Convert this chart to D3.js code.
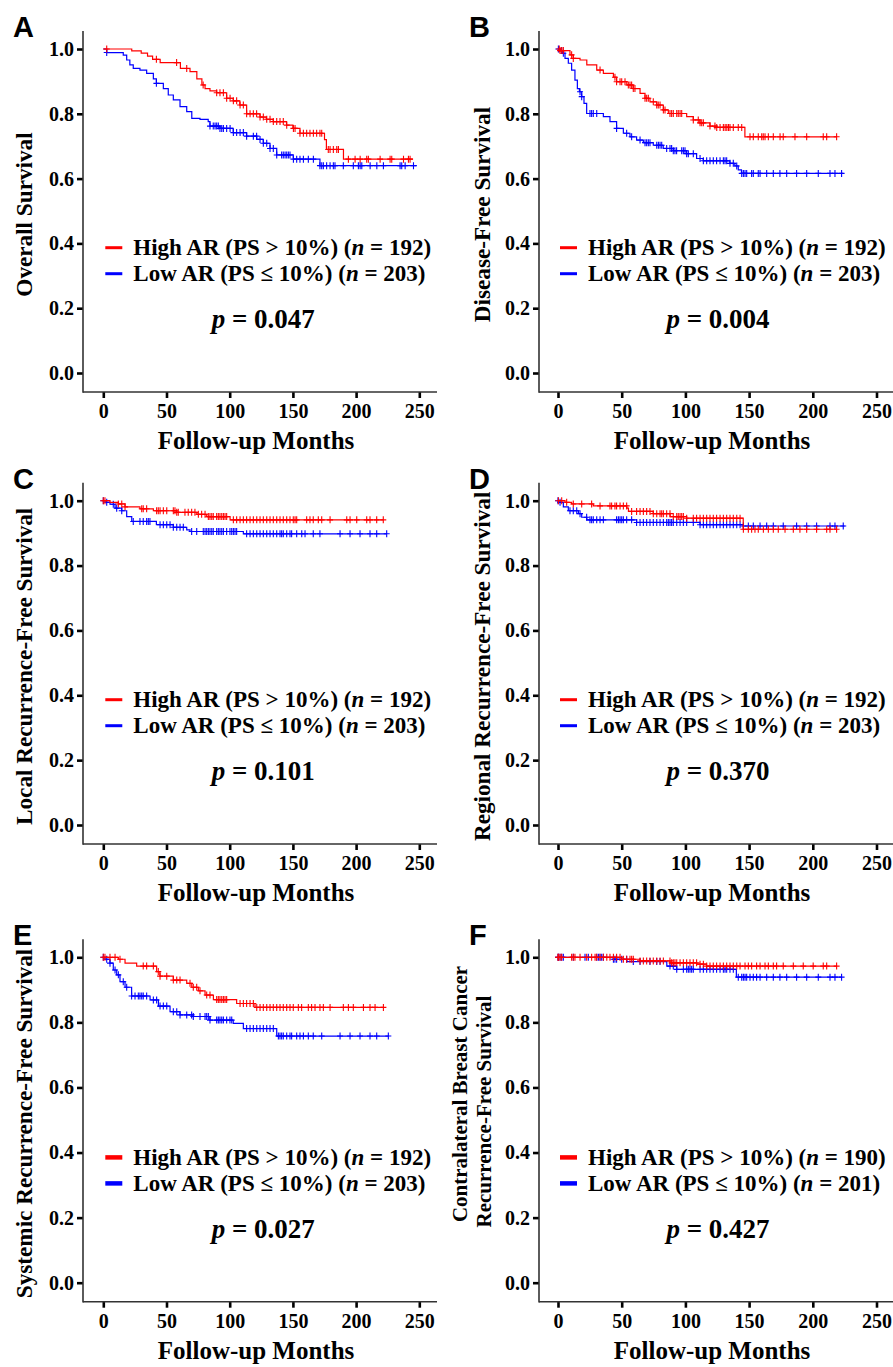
<!DOCTYPE html>
<html>
<head>
<meta charset="utf-8">
<script src="https://cdn.jsdelivr.net/npm/d3@7"></script>
<style>
body { margin: 0; background: #fff; }
svg text { font-family: "Liberation Serif", "Times New Roman", serif; font-weight: bold; fill: #000; }
</style>
</head>
<body>
<svg id="fig" width="893" height="1367"></svg>
<script>
// tick labels
const monthTicks = [0, 50, 100, 150, 200, 250];
const survTicks = [0, 0.2, 0.4, 0.6, 0.8, 1.0];

// panel text
const panelLetters = ["A", "B", "C", "D", "E", "F"];
const yTitles = [
    ["Overall Survival"],
    ["Disease-Free Survival"],
    ["Local Recurrence-Free Survival"],
    ["Regional Recurrence-Free Survival"],
    ["Systemic Recurrence-Free Survival"],
    ["Contralateral Breast Cancer", "Recurrence-Free Survival"]
];
const pValues = ["0.047", "0.004", "0.101", "0.370", "0.027", "0.427"];
const nHigh = [192, 192, 192, 192, 192, 190];
const nLow = [203, 203, 203, 203, 203, 201];

// Kaplan-Meier steps: [month, survival from that month on]
const highA = [[0,1],[22.5,0.994],[30,0.987],[35,0.978],[39,0.968],[45,0.958],[61,0.94],[68.6,0.93],[74,0.908],[78,0.889],[80.5,0.878],[84.4,0.871],[89.7,0.865],[97.6,0.848],[102.8,0.84],[108,0.827],[113.4,0.80],[124,0.79],[129,0.783],[134.5,0.776],[145,0.765],[150,0.755],[155.6,0.74],[175,0.72],[176.5,0.69],[190,0.66],[245,0.66]];
const lowA = [[0,1],[2.7,0.989],[15.8,0.981],[18.5,0.966],[21,0.951],[23.7,0.94],[29,0.935],[34.3,0.925],[39.6,0.908],[42,0.894],[47.5,0.878],[51.4,0.858],[55.4,0.843],[60.7,0.822],[66,0.807],[70,0.786],[76.5,0.783],[83,0.776],[84.4,0.762],[92.3,0.755],[102.8,0.742],[113.4,0.731],[121.4,0.721],[126.6,0.709],[131.9,0.693],[137.2,0.673],[150.3,0.66],[171.4,0.64],[248,0.64]];
const highB = [[0,1],[1.5,0.995],[9.4,0.982],[12,0.971],[17.3,0.966],[22.6,0.951],[30.4,0.935],[35.6,0.925],[43.5,0.913],[46,0.899],[54,0.889],[59,0.878],[64.4,0.863],[68.3,0.848],[72.2,0.837],[77.5,0.827],[82.7,0.812],[86.6,0.801],[101,0.791],[106.2,0.781],[111.4,0.772],[119.3,0.762],[124.5,0.758],[146.7,0.729],[218.7,0.729]];
const lowB = [[0,1],[1.6,0.995],[3.7,0.987],[5.5,0.971],[8.1,0.956],[10.7,0.935],[13.3,0.904],[15.2,0.878],[16.8,0.868],[18.6,0.853],[20.4,0.832],[22.5,0.801],[35.6,0.791],[40.8,0.776],[46,0.755],[51.3,0.74],[56.5,0.729],[61.7,0.719],[67,0.711],[74.8,0.703],[82.6,0.693],[90.5,0.686],[100.9,0.677],[108.8,0.662],[114,0.655],[134.9,0.647],[138.8,0.639],[141.5,0.627],[144,0.616],[223.9,0.616]];
const highC = [[0,1],[5.3,0.995],[11.9,0.99],[17.2,0.981],[29,0.975],[39.6,0.969],[58,0.964],[74,0.958],[81.8,0.951],[100.3,0.941],[221.6,0.941]];
const lowC = [[0,1],[2.2,0.995],[5.3,0.989],[9.3,0.977],[14.6,0.969],[18.5,0.951],[22.5,0.936],[42,0.926],[55.4,0.918],[66,0.91],[68.6,0.905],[110.8,0.898],[224.2,0.898]];
const highD = [[0,1],[5.5,0.995],[10.7,0.99],[27.7,0.984],[54,0.977],[55.3,0.967],[74.8,0.96],[88,0.951],[101,0.946],[145.4,0.912],[218.7,0.912]];
const lowD = [[0,1],[0.3,0.995],[4.2,0.981],[8.1,0.969],[16,0.96],[18.6,0.949],[22.6,0.941],[61.7,0.933],[111.5,0.926],[145.4,0.922],[225,0.922]];
const highE = [[0,1],[11.9,0.994],[17.2,0.982],[26.4,0.973],[42.2,0.956],[44.8,0.942],[55.4,0.93],[66,0.92],[70,0.908],[75.2,0.897],[80.5,0.884],[87.1,0.87],[105.5,0.858],[120,0.846],[221.6,0.846]];
const lowE = [[0,1],[1.3,0.994],[5.3,0.982],[7.9,0.961],[10.6,0.946],[13.2,0.925],[17.2,0.908],[22.4,0.881],[37,0.869],[43.6,0.85],[52.8,0.833],[60.7,0.823],[71.2,0.818],[84.4,0.807],[102.8,0.797],[110.8,0.781],[137.2,0.758],[225.5,0.758]];
const highF = [[0,1],[50,0.994],[64.4,0.989],[88,0.983],[109,0.979],[116.6,0.973],[218.7,0.973]];
const lowF = [[0,1],[43.5,0.994],[54,0.987],[85.4,0.973],[93.2,0.963],[140,0.939],[222.6,0.939]];

// censoring times (months)
const highACens = [2.7,42,58,66,79,89.7,92.3,95,97.6,100.3,102.9,105.5,108.2,110.8,113.4,116.1,118.7,121.3,124,126.6,129.3,131.9,134.5,137.2,139.8,142.4,145.1,150.4,151.7,155.6,158.3,160.9,163.5,166.2,168.8,171.4,172.8,178,179.4,182,184.7,186,193.9,199.2,203.2,208.4,209.7,219,226.9,228.2,237.5,241.4,242.7];
const lowACens = [2.7,42,84.4,87,88.4,89.7,91,92.3,93.7,95,97.6,100.3,102.9,105.5,108.2,110.8,113.4,118.7,121.3,124,126.6,129.3,131.9,134.5,137.2,141.1,142.4,143.8,145.1,146.4,147.7,150.4,153,155.6,158.3,162.2,166.2,171.4,172.8,174.1,176.7,179.4,182,183.3,189.9,197.8,201.8,203.2,204.5,211.1,216.4,221.6,234.8,236.1,238.8,245.4];
const highBCens = [1,1.6,2.9,4.2,10.7,12,33,44.7,46,48.7,50,52.6,55.2,56.5,57.8,59.1,60.4,68.3,69.6,70.9,74.8,77.5,78.7,80.1,82.7,84,87.9,89.2,90.5,93.2,94.4,95.8,97.1,106.2,110.1,111.5,112.8,114.1,119.3,123.2,124.6,127.2,129.8,131.2,132.5,133.8,135,137.6,141.5,144.2,150.7,153.3,157.2,159.9,161.1,162.5,165.1,169,174.3,176.8,186,195.2,208.2,210.9,218.7];
const lowBCens = [0.3,2.9,4.2,17.3,18.6,25.1,26.4,27.7,30.4,46,53.9,57.8,64.4,68.3,69.6,70.9,72.2,77.5,78.8,80.1,81.4,85.3,87.9,89.2,90.5,91.8,93.1,97.1,98.4,99.7,101,102.3,106.2,111.5,114.1,116.7,119.3,121.9,124.5,127.2,129.8,131.1,132.4,135,137.6,140.3,144.2,145.5,146.8,148.1,152,153.3,157.2,158.6,163.8,169,174.2,179.5,187.3,195.2,204.3,213.5,217.4,222.6];
const highCCens = [0,1.3,11.9,14.6,17.2,30.4,31.6,34.3,42.2,43.5,44.9,47.5,50.2,55.4,56.7,58.1,59.3,64.6,67.2,69.9,72.5,75.2,77.8,80.5,83.1,84.4,85.8,87,89.7,91,92.3,93.7,95,96.3,97.6,102.9,105.5,108.2,110.8,113.4,116.1,118.7,121.4,124,126.6,129.3,131.9,134.5,137.2,139.8,142.4,145.1,147.7,150.3,151.7,153,160.9,163.5,166.1,170.1,172.8,179.4,192.6,195.2,200.5,208.4,211,216.3,221.5];
const lowCCens = [0,2.7,7.9,10.6,14.6,23.7,29,31.6,34.3,35.6,36.9,44.9,47.5,50.2,52.8,55.4,58.1,60.7,63.3,69.9,73.9,79.1,80.5,81.8,83.1,84.4,85.8,87,89.7,91,92.3,93.7,95,97.6,100.2,101.6,102.9,104.2,105.5,113.4,116.1,118.7,121.4,124,126.6,129.3,131.9,134.5,137.2,139.8,141.1,142.4,145.1,147.7,149,153,157,159.6,166.1,171.4,187.3,195.2,203.1,211,216.3,224.2];
const highDCens = [0.3,2.9,6.8,12,18.6,26.4,33,40.8,42.1,44.7,46,48.7,51.3,53.9,57.8,61.7,64.4,67,69.6,72.2,74.8,77.5,80.1,81.4,82.7,85.3,87.9,90.5,93.2,94.4,95.8,97.1,98.4,101,106.2,108.8,111.5,114.1,116.7,119.3,121.9,124.5,127.2,129.8,132.4,135,137.6,140.3,142.9,145.5,149.4,152,154.6,157.2,161.2,165.1,169,172.9,178.2,184.7,189.9,195.2,203,210.9,213.5,218.7];
const lowDCens = [0,1.6,9.4,12,14.7,17.3,22.5,25.1,26.4,27.7,30.4,33,35.6,46,47.4,48.7,50,51.3,53.9,57.8,61.7,64.4,67,69.6,72.2,74.8,77.5,80.1,82.7,85.3,86.6,87.9,89.2,90.5,93.2,95.8,98.4,101,106.2,111.5,114.1,116.7,119.3,121.9,124.5,127.2,129.8,132.4,135,137.6,140.3,142.9,145.5,149.4,153.3,158.6,163.8,169,176.8,187.3,195.2,203,213.5,217.4,223.9];
const highECens = [0,1.3,5.3,9.3,13.2,31.6,34.3,39.6,43.5,44.9,50.2,55.4,58.1,60.7,68.6,71.2,73.9,76.5,81.8,84.4,89.7,91,92.3,93.7,95,96.3,97.6,108.2,110.8,113.4,116.1,118.7,121.4,124,126.6,129.3,131.9,134.5,137.2,139.8,142.4,145.1,147.7,150.3,154.3,156.9,162.2,164.8,167.5,171.4,174.1,179.4,189.9,193.9,197.8,205.8,211,215,221.6];
const lowECens = [0,2.7,5.3,9.3,11.9,15.8,18.5,22.4,25.1,27.7,29,30.4,31.6,34.3,39.6,42.2,44.9,47.5,50.2,55.4,58.1,60.7,66,69.9,71.2,76.5,80.5,81.8,83.1,84.4,89.7,91,92.3,93.7,95,97.6,100.2,101.6,113.4,116.1,118.7,121.4,124,126.6,129.3,131.9,134.5,138.5,139.8,141.1,142.4,145.1,147.7,149,153,155.6,158.3,162.2,166.1,172.8,187.3,195.2,203.1,211,216.3,225.5];
const highFCens = [0,0.3,1.6,2.9,10.7,12,13.3,17.3,22.5,26.4,29.1,30.4,33,35.6,38.3,40.8,43.5,46,48.7,51.3,53.9,56.5,57.8,59.1,64.4,67,69.6,72.2,74.8,77.5,80.1,82.7,87.9,89.2,90.5,91.8,93.2,95.8,98.4,101,103.6,106.2,108.8,111.5,114.1,116.7,119.3,121.9,124.5,127.2,129.8,132.4,135,137.6,140.3,142.9,146.8,149.4,152,155.9,158.6,162.5,165.1,169,171.6,176.8,184.7,192.5,200.3,208.2,210.9,218.7];
const lowFCens = [0,0.3,1.6,2.9,4.2,12,21.2,23.8,30.4,31.7,33,34.3,35.6,43.5,44.7,46,50,53.9,59.1,64.4,72.2,77.5,80.1,87.9,90.5,93.2,98.4,101,102.3,103.6,104.9,106.2,111.5,114.1,116.7,119.3,121.9,124.5,127.2,129.8,131.1,132.4,135,137.6,141.5,144.2,145.5,146.8,148.1,150.7,153.3,155.9,158.6,163.8,169,174.2,179.5,187.3,195.2,204.3,213.5,217.4,222.6];

const RED = "#ff0000", BLUE = "#0000ff";

// table built from the arrays above
const panels = [
    {high: highA, highCens: highACens, low: lowA, lowCens: lowACens},
    {high: highB, highCens: highBCens, low: lowB, lowCens: lowBCens},
    {high: highC, highCens: highCCens, low: lowC, lowCens: lowCCens},
    {high: highD, highCens: highDCens, low: lowD, lowCens: lowDCens},
    {high: highE, highCens: highECens, low: lowE, lowCens: lowECens},
    {high: highF, highCens: highFCens, low: lowF, lowCens: lowFCens}
];

// page geometry (two columns, three rows)
let cols = [
    {axis: 83, x0: 103.3, x250: 419.3, right: 437},
    {axis: 539, x0: 558, x250: 876.5, right: 893}
];
let rows = [
    {top: 49, bottom: 373},
    {top: 500.7, bottom: 825},
    {top: 957.3, bottom: 1282.7}
];

let svg = d3.select("#fig");

// survival value of a step curve at month t
function survAt(steps, t) {
    let s = steps[0][1];
    for (let d of steps) if (d[0] <= t) s = d[1];
    return s;
}

panels.forEach((p, i) => {
    let col = cols[i % 2], row = rows[Math.floor(i / 2)];
    let x = d3.scaleLinear().domain([0, 250]).range([col.x0, col.x250]);
    let y = d3.scaleLinear().domain([0, 1]).range([row.bottom, row.top]);
    let axisY = row.bottom + 19, axisTop = row.top - 18;
    let g = svg.append("g");

    // axes
    let xa = g.append("g")
        .attr("transform", `translate(0, ${axisY})`)
        .call(d3.axisBottom(x).tickValues(monthTicks).tickSize(6).tickSizeOuter(0).tickPadding(6));
    let ya = g.append("g")
        .attr("transform", `translate(${col.axis}, 0)`)
        .call(d3.axisLeft(y).tickValues(survTicks).tickFormat(d3.format(".1f")).tickSize(6).tickSizeOuter(0).tickPadding(3));
    [xa, ya].forEach(a => {
        a.attr("font-family", null).attr("font-size", null);
        a.select(".domain").remove();
        a.selectAll(".tick line").attr("stroke", "#000").attr("stroke-width", 2.6);
        a.selectAll(".tick text").attr("font-size", 20);
    });
    g.append("line")
        .attr("x1", col.axis).attr("x2", col.right)
        .attr("y1", axisY).attr("y2", axisY)
        .attr("stroke", "#333").attr("stroke-width", 1.6);
    g.append("line")
        .attr("x1", col.axis).attr("x2", col.axis)
        .attr("y1", axisTop).attr("y2", axisY + 0.8)
        .attr("stroke", "#333").attr("stroke-width", 1.6);

    // curves, low first so high sits on top
    let line = d3.line().x(d => x(d[0])).y(d => y(d[1])).curve(d3.curveStepAfter);
    [[p.low, p.lowCens, BLUE], [p.high, p.highCens, RED]].forEach(([steps, cens, color]) => {
        g.append("path")
            .attr("d", line(steps))
            .attr("fill", "none")
            .attr("stroke", color)
            .attr("stroke-width", 1.2);
        g.append("g").selectAll("path")
            .data(cens)
            .enter().append("path")
            .attr("d", t => {
                let cx = x(t), cy = y(survAt(steps, t));
                return `M${cx - 3},${cy}h6M${cx},${cy - 3.5}v7`;
            })
            .attr("stroke", color)
            .attr("stroke-width", 1.1)
            .attr("fill", "none");
    });

    // legend
    let dashW = i >= 4 ? 4.5 : 3;
    [["High AR (PS > 10%) (", nHigh[i], RED], ["Low AR (PS \u2264 10%) (", nLow[i], BLUE]].forEach(([lab, n, color], k) => {
        let ly = row.bottom - 125.3 + k * 26;
        g.append("line")
            .attr("x1", col.x0 + 2).attr("x2", col.x0 + 19)
            .attr("y1", ly).attr("y2", ly)
            .attr("stroke", color).attr("stroke-width", dashW);
        let t = g.append("text")
            .attr("x", col.x0 + 30).attr("y", ly + 7.5)
            .attr("font-size", 23);
        t.append("tspan").text(lab);
        t.append("tspan").attr("font-style", "italic").text("n");
        t.append("tspan").text(` = ${n})`);
    });

    // p value
    let pt = g.append("text")
        .attr("x", col.x0 + 160).attr("y", row.bottom - 45)
        .attr("text-anchor", "middle")
        .attr("font-size", 27);
    pt.append("tspan").attr("font-style", "italic").text("p");
    pt.append("tspan").text(` = ${pValues[i]}`);

    // axis titles
    g.append("text")
        .attr("x", col.axis + 173).attr("y", axisY + 57)
        .attr("text-anchor", "middle")
        .attr("font-size", 25)
        .text("Follow-up Months");
    let cy = (axisTop + axisY) / 2 + 3;
    let titleX = col.axis - (i % 2 ? 49 : 51);
    let lines = yTitles[i];
    if (lines.length === 1) {
        g.append("text")
            .attr("transform", `translate(${titleX}, ${cy}) rotate(-90)`)
            .attr("text-anchor", "middle")
            .attr("font-size", 23.2)
            .text(lines[0]);
    } else {
        // two line title: offsets
        [[-23, -29.5], [1, -12]].forEach(([dx, dy], k) => {
            g.append("text")
                .attr("transform", `translate(${titleX + dx}, ${cy + dy}) rotate(-90)`)
                .attr("text-anchor", "middle")
                .attr("font-size", 21)
                .text(lines[k]);
        });
    }

    // panel letter
    g.append("text")
        .attr("x", col.axis - 70).attr("y", row.top - 12)
        .style("font-family", "'Liberation Sans', Arial, sans-serif")
        .attr("font-size", 29)
        .text(panelLetters[i]);
});
</script>
</body>
</html>
